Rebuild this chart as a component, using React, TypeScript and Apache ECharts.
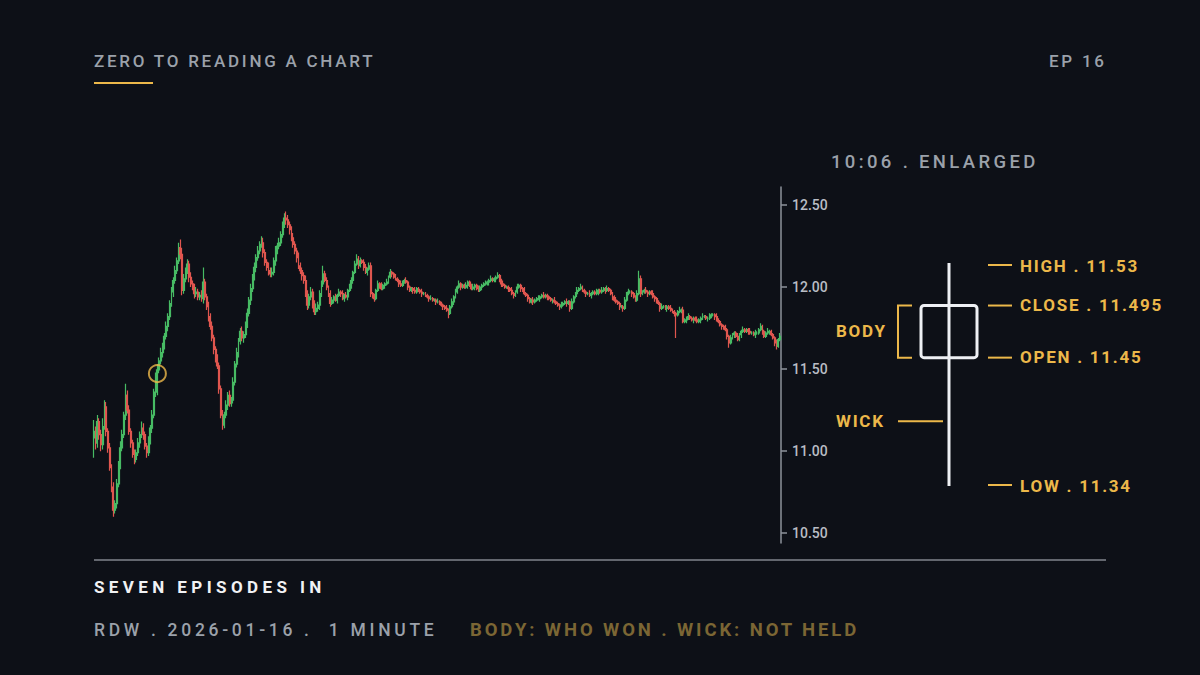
import React, { useEffect, useRef } from "react";
import * as echarts from "echarts";

// ---------- data (RDW, 2026-01-16, 1-minute candles) ----------
const firstOpen = 11.08;
const closes = [
  11.12, 11.05, 11.18, 11.1, 11.04, 11.15, 11.27, 11.12, 11.02, 10.9,
  10.78, 10.64, 10.68, 10.8, 10.92, 11.02, 11.1, 11.22, 11.34, 11.25,
  11.12, 11.05, 10.98, 10.95, 10.99, 11.05, 11.1, 11.14, 11.1, 11.03,
  10.99, 11.06, 11.14, 11.22, 11.36, 11.45, 11.495, 11.55, 11.6, 11.64,
  11.7, 11.76, 11.82, 11.9, 11.97, 12.04, 12.1, 12.16, 12.24, 12.2,
  11.98, 12.05, 12.1, 12.14, 12.06, 12.02, 12.0, 11.96, 11.97, 11.94,
  11.95, 11.93, 12.03, 11.94, 11.88, 11.82, 11.76, 11.69, 11.62, 11.56,
  11.52, 11.38, 11.22, 11.16, 11.22, 11.28, 11.34, 11.29, 11.31, 11.42,
  11.53, 11.6, 11.67, 11.73, 11.69, 11.71, 11.77, 11.84, 11.92, 11.99,
  12.06, 12.12, 12.18, 12.22, 12.26, 12.27, 12.21, 12.15, 12.12, 12.1,
  12.08, 12.09, 12.16, 12.22, 12.25, 12.27, 12.32, 12.38, 12.42, 12.41,
  12.38, 12.35, 12.3, 12.26, 12.22, 12.18, 12.13, 12.1, 12.07, 12.04,
  11.96, 11.89, 11.94, 11.97, 11.9, 11.85, 11.87, 11.89, 11.96, 12.02,
  12.08, 12.04, 12.0, 11.96, 11.9, 11.92, 11.94, 11.92, 11.95, 11.97,
  11.96, 11.93, 11.95, 11.94, 11.98, 12.0, 12.04, 12.09, 12.14, 12.17,
  12.13, 12.16, 12.15, 12.12, 12.09, 12.11, 12.13, 11.96, 11.94, 11.93,
  11.98, 12.02, 12.01, 11.99, 12.01, 12.02, 12.03, 12.06, 12.09, 12.08,
  12.06, 12.05, 12.04, 12.02, 12.01, 12.03, 12.04, 12.03, 12.0, 11.98,
  11.99, 11.98, 11.97, 11.99, 11.98, 11.97, 11.96, 11.96, 11.95, 11.94,
  11.93, 11.93, 11.92, 11.92, 11.91, 11.91, 11.9, 11.89, 11.88, 11.87,
  11.86, 11.84, 11.88, 11.91, 11.94, 11.97, 12.0, 12.02, 12.0, 12.01,
  12.0, 12.01, 12.03, 12.01, 11.99, 12.0, 12.01, 11.99, 11.98, 12.0,
  12.01, 12.02, 12.02, 12.03, 12.04, 12.05, 12.04, 12.05, 12.06, 12.07,
  12.04, 12.02, 12.01, 12.0, 12.0, 11.99, 11.98, 11.96, 11.95, 11.97,
  12.0, 12.01, 11.99, 11.98, 11.96, 11.95, 11.93, 11.91, 11.92, 11.91,
  11.92, 11.93, 11.93, 11.94, 11.95, 11.94, 11.95, 11.94, 11.93, 11.92,
  11.92, 11.91, 11.9, 11.89, 11.88, 11.89, 11.9, 11.91, 11.9, 11.91,
  11.87, 11.91, 11.94, 11.96, 11.98, 11.99, 12.0, 11.98, 11.97, 11.96,
  11.96, 11.95, 11.96, 11.97, 11.96, 11.97, 11.98, 11.97, 11.98, 11.99,
  11.98, 11.99, 11.98, 11.96, 11.94, 11.92, 11.91, 11.9, 11.88, 11.88,
  11.87, 11.92, 11.96, 11.97, 11.97, 11.96, 11.94, 11.92, 11.96, 12.05,
  11.96, 11.97, 11.98, 11.97, 11.96, 11.97, 11.96, 11.94, 11.93, 11.91,
  11.9, 11.87, 11.88, 11.88, 11.87, 11.88, 11.87, 11.86, 11.85, 11.84,
  11.83, 11.85, 11.86, 11.86, 11.79, 11.8, 11.81, 11.82, 11.81, 11.8,
  11.81, 11.8, 11.79, 11.8, 11.81, 11.82, 11.82, 11.81, 11.81, 11.82,
  11.83, 11.83, 11.82, 11.8, 11.79, 11.77, 11.76, 11.75, 11.74, 11.7,
  11.66, 11.69, 11.71, 11.72, 11.7, 11.68, 11.71, 11.73, 11.74, 11.73,
  11.74, 11.73, 11.72, 11.72, 11.71, 11.72, 11.72, 11.74, 11.76, 11.73,
  11.7, 11.72, 11.73, 11.73, 11.71, 11.69, 11.66, 11.64, 11.68, 11.7,
];
// wick lengths in cents above max(open, close) and below min(open, close)
const upperWickCents = [
  7, 3, 4, 2, 3, 5, 4, 3, 2, 3, 2, 3, 2, 3, 2, 4, 3, 2, 7, 3,
  3, 2, 2, 3, 2, 3, 2, 4, 3, 2, 2, 3, 2, 3, 2, 3, 3.5, 2, 3, 2,
  2, 3, 2, 2, 3, 2, 3, 2, 3, 5, 4, 3, 2, 3, 2, 3, 2, 2, 3, 2,
  2, 3, 9, 2, 2, 3, 2, 3, 2, 2, 3, 2, 2, 3, 2, 3, 2, 3, 2, 3,
  2, 3, 2, 2, 3, 2, 2, 3, 2, 3, 2, 3, 2, 3, 2, 4, 3, 2, 2, 3,
  2, 3, 2, 3, 2, 3, 2, 2, 3, 4, 3, 2, 2, 3, 2, 2, 3, 2, 2, 2,
  3, 2, 2, 3, 2, 2, 3, 2, 2, 2, 5, 2, 2, 1, 2, 2, 1, 2, 1, 2,
  1, 2, 1, 2, 1, 2, 2, 1, 2, 3, 2, 2, 1, 2, 2, 1, 2, 2, 1, 2,
  1, 2, 1, 2, 1, 1, 2, 1, 2, 1, 1, 2, 1, 1, 2, 1, 1, 2, 1, 1,
  1, 1, 2, 1, 1, 1, 2, 1, 1, 1, 1, 2, 1, 1, 1, 2, 1, 1, 1, 1,
  2, 1, 1, 2, 1, 2, 1, 2, 1, 1, 1, 2, 1, 1, 1, 2, 1, 1, 2, 1,
  1, 1, 2, 1, 1, 2, 1, 1, 1, 2, 1, 1, 2, 1, 1, 1, 1, 2, 1, 1,
  2, 1, 1, 1, 2, 1, 1, 1, 1, 2, 1, 1, 2, 1, 1, 2, 1, 1, 1, 1,
  1, 2, 1, 1, 1, 2, 1, 1, 2, 1, 1, 2, 1, 1, 2, 1, 2, 1, 1, 1,
  1, 2, 1, 1, 1, 2, 1, 1, 2, 1, 1, 2, 1, 1, 1, 1, 2, 1, 1, 1,
  1, 2, 1, 2, 1, 1, 1, 1, 2, 5, 2, 1, 1, 2, 1, 1, 1, 2, 1, 1,
  1, 1, 2, 1, 1, 1, 1, 2, 1, 1, 1, 1, 2, 1, 2, 1, 1, 2, 1, 1,
  1, 1, 2, 1, 1, 2, 1, 1, 1, 2, 1, 1, 1, 2, 1, 1, 1, 1, 2, 1,
  1, 2, 1, 1, 1, 2, 1, 1, 2, 1, 1, 1, 2, 1, 1, 2, 1, 1, 2, 1,
  1, 1, 2, 1, 1, 1, 1, 2, 1, 2,
];
const lowerWickCents = [
  12, 4, 3, 3, 4, 3, 2, 3, 3, 2, 3, 4, 2, 3, 2, 3, 2, 2, 3, 2,
  2, 3, 2, 3, 2, 2, 3, 2, 3, 2, 3, 2, 2, 3, 2, 3, 11, 2, 2, 3,
  2, 2, 3, 2, 2, 3, 2, 2, 2, 3, 3, 2, 2, 2, 3, 2, 2, 3, 2, 2,
  2, 2, 3, 2, 2, 3, 2, 2, 3, 2, 2, 3, 2, 3, 2, 2, 3, 2, 2, 2,
  2, 2, 3, 2, 2, 3, 2, 2, 2, 3, 2, 2, 3, 2, 2, 2, 3, 2, 2, 3,
  2, 2, 2, 3, 2, 2, 2, 2, 2, 3, 2, 3, 2, 2, 2, 3, 2, 2, 3, 2,
  2, 3, 2, 2, 3, 2, 2, 2, 3, 2, 2, 1, 2, 2, 2, 1, 2, 1, 2, 1,
  2, 1, 2, 1, 2, 1, 1, 2, 1, 1, 2, 1, 1, 2, 1, 2, 1, 2, 1, 2,
  1, 1, 2, 1, 1, 2, 1, 1, 1, 2, 1, 1, 1, 2, 1, 1, 1, 1, 2, 1,
  1, 2, 1, 1, 1, 1, 2, 1, 1, 1, 2, 1, 1, 1, 2, 1, 1, 1, 2, 1,
  1, 3, 1, 1, 2, 1, 1, 1, 2, 1, 1, 1, 2, 1, 1, 1, 2, 1, 1, 1,
  2, 1, 1, 1, 2, 1, 1, 1, 2, 1, 1, 2, 1, 1, 1, 2, 1, 1, 2, 1,
  1, 1, 2, 1, 1, 1, 2, 1, 1, 2, 1, 1, 1, 2, 1, 1, 1, 2, 1, 1,
  2, 1, 1, 1, 2, 1, 1, 1, 2, 1, 2, 1, 1, 1, 2, 1, 1, 1, 1, 2,
  1, 1, 2, 1, 1, 1, 2, 1, 1, 1, 2, 1, 1, 1, 2, 1, 1, 1, 2, 1,
  2, 1, 1, 1, 1, 2, 1, 1, 1, 1, 2, 1, 1, 1, 2, 1, 1, 1, 2, 1,
  1, 2, 1, 1, 1, 2, 1, 1, 1, 2, 14, 1, 1, 2, 1, 1, 2, 1, 1, 1,
  2, 1, 1, 1, 2, 1, 1, 1, 2, 1, 1, 1, 2, 1, 1, 1, 2, 1, 1, 2,
  3, 1, 1, 2, 1, 1, 1, 2, 1, 1, 1, 2, 1, 1, 1, 2, 1, 1, 1, 2,
  1, 1, 1, 2, 1, 1, 2, 2, 1, 1,
];
const yTicks = [10.5, 11, 11.5, 12, 12.5];
const markedIndex = 36;
const markedTime = "10:06";
// enlarged candle: [open, close, low, high]
const enlargedOHLC = [11.45, 11.495, 11.34, 11.53];

// ---------- styles ----------
const BG = "#0d1017";
const GOLD = "#ecb84a";
const UP = "#47bb64";
const DOWN = "#e0564f";
const FONT = "Roboto, 'Noto Sans', sans-serif";

const times = closes.map((_, i) => {
  const m = 9 * 60 + 30 + i;
  return `${Math.floor(m / 60)}:${String(m % 60).padStart(2, "0")}`;
});

const candleData = closes.map((c, i) => {
  const o = i === 0 ? firstOpen : closes[i - 1];
  const hi = Math.max(o, c) + upperWickCents[i] / 100;
  const lo = Math.min(o, c) - lowerWickCents[i] / 100;
  return [o, c, +lo.toFixed(3), +hi.toFixed(3)];
});

type TxtProps = {
  x: number;
  cy: number;
  text: string;
  color: string;
  size: number;
  weight: number;
  spacing: number;
  right?: boolean;
};
const Txt = ({ x, cy, text, color, size, weight, spacing, right }: TxtProps) => (
  <div
    style={{
      position: "absolute",
      ...(right ? { right: 1200 - x - spacing } : { left: x }),
      top: cy - 12,
      height: 24,
      lineHeight: "24px",
      fontFamily: FONT,
      fontSize: size,
      fontWeight: weight,
      letterSpacing: spacing,
      color,
      whiteSpace: "pre",
      pointerEvents: "none",
    }}
  >
    {text}
  </div>
);

export default function App() {
  const ref = useRef<HTMLDivElement>(null);

  useEffect(() => {
    if (!ref.current) return;
    const chart = echarts.init(ref.current, undefined, { renderer: "svg" });
    const mid = (enlargedOHLC[0] + enlargedOHLC[1]) / 2;
    chart.setOption({
      backgroundColor: BG,
      animation: false,
      grid: [
        { left: 93, top: 187, width: 688, height: 356 },
        { left: 900, top: 265, width: 98, height: 220 },
      ],
      xAxis: [
        { type: "category", gridIndex: 0, data: times, show: false },
        { type: "category", gridIndex: 1, data: [markedTime], show: false },
      ],
      yAxis: [
        {
          type: "value",
          gridIndex: 0,
          position: "right",
          min: 10.44,
          max: 12.61,
          splitLine: { show: false },
          axisLine: { show: true, lineStyle: { color: "#8d929b", width: 1.5 } },
          axisTick: {
            show: true,
            length: 6,
            customValues: yTicks,
            lineStyle: { color: "#8d929b", width: 1.5 },
          },
          axisLabel: {
            customValues: yTicks,
            formatter: (v: number) => v.toFixed(2),
            color: "#b9bdc5",
            fontSize: 14,
            fontWeight: 500,
            fontFamily: FONT,
            margin: 11,
          },
        },
        { type: "value", gridIndex: 1, min: 11.34, max: 11.53, show: false },
      ],
      series: [
        {
          type: "candlestick",
          xAxisIndex: 0,
          yAxisIndex: 0,
          data: candleData,
          barWidth: 1.4,
          itemStyle: {
            color: UP,
            color0: DOWN,
            borderColor: UP,
            borderColor0: DOWN,
            borderColorDoji: UP,
            borderWidth: 1.2,
          },
        },
        {
          type: "scatter",
          xAxisIndex: 0,
          yAxisIndex: 0,
          data: [[markedIndex, mid]],
          symbol: "circle",
          symbolSize: 17,
          itemStyle: { color: "rgba(0,0,0,0)", borderColor: GOLD, borderWidth: 2 },
          z: 5,
        },
        {
          type: "custom",
          xAxisIndex: 1,
          yAxisIndex: 1,
          clip: false,
          data: [[0, ...enlargedOHLC]],
          renderItem: (_params: any, api: any) => {
            const xv = api.value(0);
            const pO = api.coord([xv, api.value(1)]);
            const pC = api.coord([xv, api.value(2)]);
            const pL = api.coord([xv, api.value(3)]);
            const pH = api.coord([xv, api.value(4)]);
            const cx = pO[0];
            const top = Math.min(pO[1], pC[1]);
            const bot = Math.max(pO[1], pC[1]);
            const half = 28;
            const white = "#eef0f4";
            const dash = (y: number) => ({
              type: "line",
              shape: { x1: cx + 39, y1: y, x2: cx + 63, y2: y },
              style: { stroke: GOLD, lineWidth: 2 },
            });
            const wickY = (pO[1] + pL[1]) / 2;
            return {
              type: "group",
              children: [
                {
                  type: "rect",
                  shape: { x: cx - half, y: top, width: half * 2, height: bot - top, r: 3 },
                  style: { fill: BG, stroke: white, lineWidth: 3 },
                },
                {
                  type: "line",
                  shape: { x1: cx, y1: pH[1] - 2, x2: cx, y2: pL[1] + 1 },
                  style: { stroke: white, lineWidth: 3 },
                },
                dash(pH[1]),
                dash(pC[1]),
                dash(pO[1]),
                dash(pL[1]),
                {
                  type: "polyline",
                  shape: {
                    points: [
                      [cx - 37, top],
                      [cx - 51, top],
                      [cx - 51, bot],
                      [cx - 37, bot],
                    ],
                  },
                  style: { stroke: GOLD, lineWidth: 2, fill: "none" },
                },
                {
                  type: "line",
                  shape: { x1: cx - 51, y1: wickY, x2: cx - 6, y2: wickY },
                  style: { stroke: GOLD, lineWidth: 2 },
                },
              ],
            };
          },
        },
      ],
      graphic: [
        {
          type: "line",
          shape: { x1: 94, y1: 83, x2: 153, y2: 83 },
          style: { stroke: GOLD, lineWidth: 2 },
        },
        {
          type: "line",
          shape: { x1: 94, y1: 560, x2: 1106, y2: 560 },
          style: { stroke: "#80858e", lineWidth: 1.5 },
        },
      ],
    });
    return () => chart.dispose();
  }, []);

  const gray = "#9ba1aa";
  return (
    <div
      style={{
        position: "fixed",
        left: 0,
        top: 0,
        width: 1200,
        height: 675,
        background: BG,
        overflow: "hidden",
      }}
    >
      <div ref={ref} style={{ position: "absolute", left: 0, top: 0, width: 1200, height: 675 }} />
      <Txt x={94} cy={61} text="ZERO TO READING A CHART" color={gray} size={17} weight={500} spacing={2.75} />
      <Txt x={1104} cy={61} text="EP 16" color={gray} size={17} weight={500} spacing={2.75} right />
      <Txt x={831} cy={162} text="10:06 . ENLARGED" color={gray} size={18.5} weight={500} spacing={3.35} />
      <Txt x={1020} cy={266} text="HIGH . 11.53" color={GOLD} size={17} weight={700} spacing={1.75} />
      <Txt x={1020} cy={305} text="CLOSE . 11.495" color={GOLD} size={17} weight={700} spacing={1.75} />
      <Txt x={1020} cy={357} text="OPEN . 11.45" color={GOLD} size={17} weight={700} spacing={1.75} />
      <Txt x={1020} cy={486} text="LOW . 11.34" color={GOLD} size={17} weight={700} spacing={1.75} />
      <Txt x={836} cy={331} text="BODY" color={GOLD} size={17} weight={700} spacing={1.75} />
      <Txt x={836} cy={421} text="WICK" color={GOLD} size={17} weight={700} spacing={1.75} />
      <Txt x={94} cy={587} text="SEVEN EPISODES IN" color="#f1f2f4" size={17} weight={700} spacing={4.4} />
      <Txt x={94} cy={630} text="RDW . 2026-01-16 .  1 MINUTE" color={gray} size={17.5} weight={500} spacing={3.7} />
      <Txt x={470} cy={630} text="BODY: WHO WON . WICK: NOT HELD" color="#7b6634" size={18.5} weight={700} spacing={2.9} />
    </div>
  );
}
